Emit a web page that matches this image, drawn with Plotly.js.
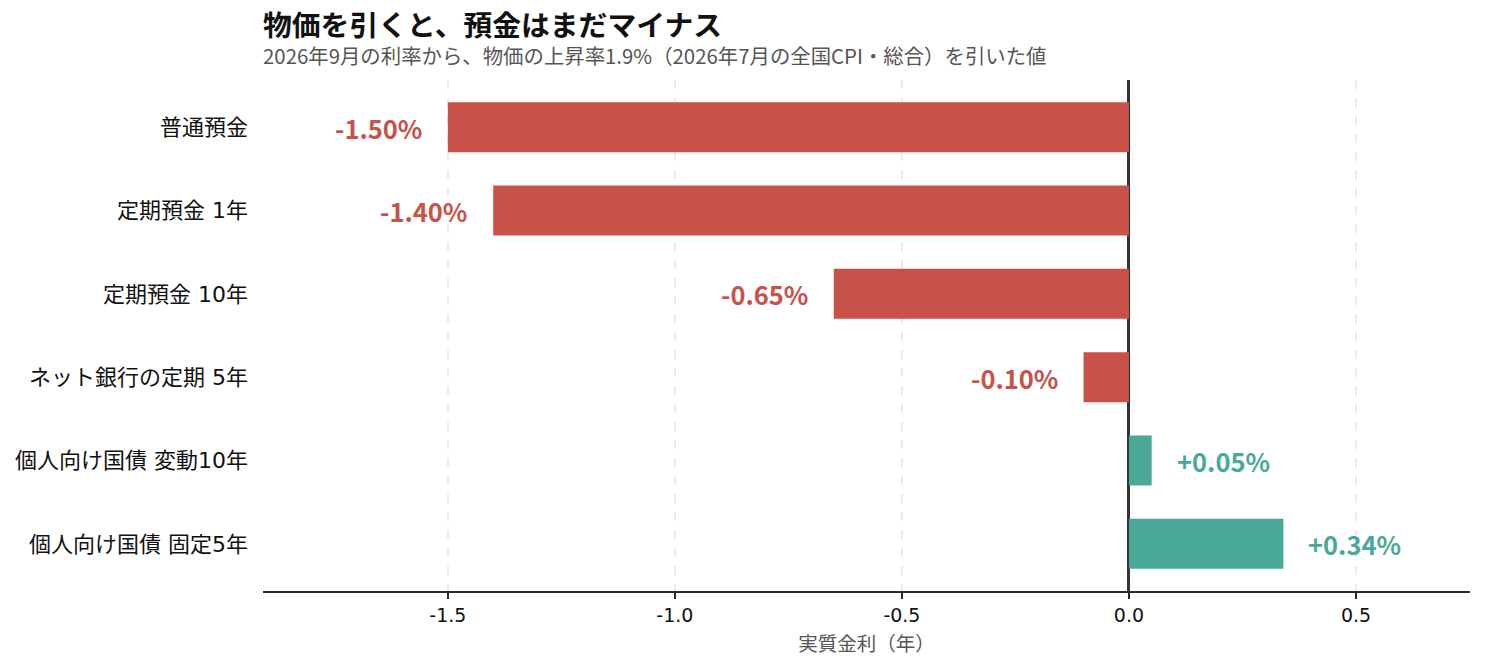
<!DOCTYPE html>
<html>
<head>
<meta charset="utf-8">
<script src="https://cdn.plot.ly/plotly-3.0.1.min.js"></script>
<style>html,body{margin:0;padding:0;background:#fff;}#chart{width:1485px;height:670px;}</style>
</head>
<body>
<div id="chart"></div>
<script>
const categories = ["普通預金", "定期預金 1年", "定期預金 10年", "ネット銀行の定期 5年", "個人向け国債 変動10年", "個人向け国債 固定5年"];
const realRates = [-1.50, -1.40, -0.65, -0.10, 0.05, 0.34];
const valueLabels = ["-1.50%", "-1.40%", "-0.65%", "-0.10%", "+0.05%", "+0.34%"];
const tickValues = [-1.5, -1.0, -0.5, 0.0, 0.5];
const tickLabels = ["-1.5", "-1.0", "-0.5", "0.0", "0.5"];
const titleText = "物価を引くと、預金はまだマイナス";
const subtitleText = "2026年9月の利率から、物価の上昇率1.9%（2026年7月の全国CPI・総合）を引いた値";
const xTitleText = "実質金利（年）";

const RED = "#C8514A", GREEN = "#4AA898";
const FONT = "Noto Sans CJK JP, Noto Sans, sans-serif";
const NUMFONT = "DejaVu Sans, Noto Sans CJK JP, sans-serif";
const colors = realRates.map(v => v < 0 ? RED : GREEN);

const trace = {
  type: "bar", orientation: "h",
  x: realRates, y: categories,
  width: 0.6,
  marker: {color: colors, line: {width: 0}},
  hoverinfo: "skip"
};

const annotations = realRates.map((v, i) => ({
  x: v, y: categories[i], xref: "x", yref: "y",
  text: "<b>" + valueLabels[i] + "</b>", showarrow: false,
  xanchor: v < 0 ? "right" : "left",
  xshift: v < 0 ? -24 : 23,
  font: {family: FONT, size: 25.5, color: colors[i]}
}));
annotations.push({
  xref: "paper", yref: "paper", x: 0, y: 1, xanchor: "left", yanchor: "middle",
  yshift: 57, xshift: -2, text: "<b>" + titleText + "</b>", showarrow: false,
  font: {family: FONT, size: 28.8, color: "#111"}
});
annotations.push({
  xref: "paper", yref: "paper", x: 0, y: 1, xanchor: "left", yanchor: "middle",
  yshift: 25, xshift: -2, text: subtitleText, showarrow: false,
  font: {family: FONT, size: 20.4, color: "#555"}
});

const layout = {
  width: 1485, height: 670,
  margin: {l: 263, r: 15, t: 80, b: 79},
  paper_bgcolor: "#fff", plot_bgcolor: "#fff",
  showlegend: false,
  font: {family: FONT, size: 18, color: "#111"},
  xaxis: {
    range: [-1.907, 0.751],
    tickvals: tickValues, ticktext: tickLabels,
    showgrid: true, gridcolor: "#ebebeb", griddash: "dash", gridwidth: 1.5,
    zeroline: true, zerolinecolor: "#333", zerolinewidth: 3,
    showline: true, linecolor: "#2a2a2a", linewidth: 2,
    ticks: "outside", ticklen: 6, tickwidth: 2, tickcolor: "#2a2a2a",
    tickfont: {family: NUMFONT, size: 19, color: "#111"},
    title: {text: xTitleText, font: {family: FONT, size: 19.5, color: "#555"}, standoff: 13},
    fixedrange: true
  },
  yaxis: {
    type: "category",
    categoryorder: "array", categoryarray: categories,
    range: [5.566, -0.566],
    showgrid: false, zeroline: false, showline: false,
    ticks: "", ticklabelstandoff: 14,
    tickfont: {family: NUMFONT, size: 22, color: "#111"},
    fixedrange: true
  },
  annotations: annotations
};

Plotly.newPlot("chart", [trace], layout, {displayModeBar: false, staticPlot: true});
</script>
</body>
</html>
